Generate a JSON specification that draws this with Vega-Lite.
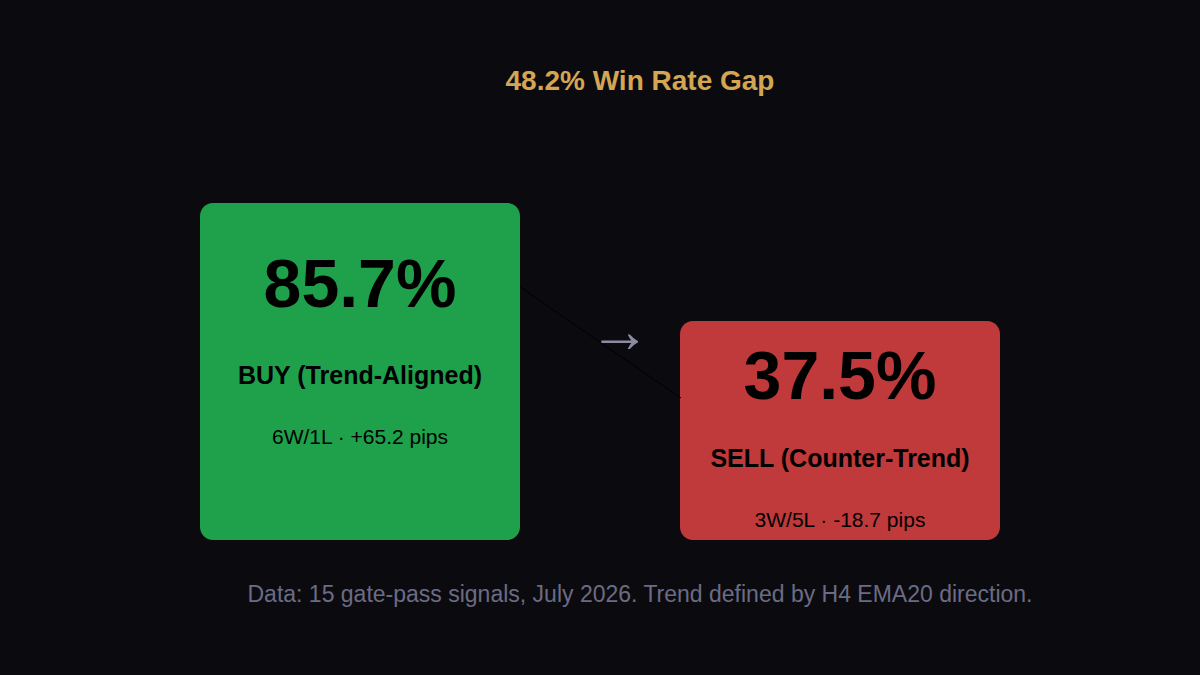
{
  "$schema": "https://vega.github.io/schema/vega-lite/v6.json",
  "width": 1200,
  "height": 675,
  "autosize": {"type": "fit", "contains": "padding"},
  "padding": 0,
  "background": "#0b0b0f",
  "view": {"stroke": null},
  "config": {"font": "Liberation Sans"},
  "datasets": {
    "boxes": [
      {"slot": 1, "side": "BUY", "rate": 85.7, "wins": 6, "losses": 1, "pips": 65.2,
       "pct": "85.7%", "label": "BUY (Trend-Aligned)", "record": "6W/1L · +65.2 pips"},
      {"slot": 2, "side": "SELL", "rate": 37.5, "wins": 3, "losses": 5, "pips": -18.7,
       "pct": "37.5%", "label": "SELL (Counter-Trend)", "record": "3W/5L · -18.7 pips"}
    ],
    "notes": [
      {"kind": "title", "text": "48.2% Win Rate Gap"},
      {"kind": "footnote", "text": "Data: 15 gate-pass signals, July 2026. Trend defined by H4 EMA20 direction."}
    ]
  },
  "data": {"name": "boxes"},
  "resolve": {"scale": {"x": "independent", "y": "independent", "color": "independent"}},
  "layer": [
    {
      "mark": {"type": "bar", "width": 320, "cornerRadius": 13},
      "encoding": {
        "x": {"field": "slot", "type": "quantitative", "scale": {"domain": [0.25, 2.75], "range": [0, 1200], "padding": 0, "zero": false, "nice": false}, "axis": null},
        "y": {"field": "rate", "type": "quantitative", "scale": {"domain": [-107.1, 168.6], "range": [675, 0], "zero": false, "nice": false}, "axis": null},
        "y2": {"datum": -52},
        "color": {"field": "side", "type": "nominal", "scale": {"domain": ["BUY", "SELL"], "range": ["#1fa14c", "#c0393b"]}, "legend": null},
        "tooltip": [
          {"field": "label", "type": "nominal", "title": "Side"},
          {"field": "rate", "type": "quantitative", "title": "Win rate %"},
          {"field": "pips", "type": "quantitative"}
        ]
      }
    },
    {
      "mark": {"type": "line", "color": "#000000", "strokeWidth": 1},
      "encoding": {
        "x": {"field": "slot", "type": "quantitative", "scale": {"domain": [1, 2], "range": [520, 681], "zero": false, "nice": false}, "axis": null},
        "y": {"field": "rate", "type": "quantitative", "scale": {"domain": [37.5, 85.7], "range": [398, 287], "zero": false, "nice": false}, "axis": null}
      }
    },
    {
      "mark": {"type": "text", "text": "→", "fontSize": 62, "fontWeight": "bold", "align": "left", "baseline": "middle", "dx": -12, "dy": -10, "color": "#8b8ba3"},
      "encoding": {
        "x": {"aggregate": "mean", "field": "slot", "type": "quantitative", "scale": {"domain": [1, 2], "range": [520, 681], "zero": false, "nice": false}, "axis": null},
        "y": {"aggregate": "mean", "field": "rate", "type": "quantitative", "scale": {"domain": [37.5, 85.7], "range": [398, 287], "zero": false, "nice": false}, "axis": null}
      }
    },
    {
      "mark": {"type": "text", "fontSize": 68, "fontWeight": "bold", "baseline": "middle", "color": "#000000"},
      "encoding": {
        "text": {"field": "pct"},
        "x": {"field": "slot", "type": "quantitative", "scale": {"domain": [0.25, 2.75], "range": [0, 1200], "zero": false, "nice": false}, "axis": null},
        "y": {"field": "rate", "type": "quantitative", "scale": {"domain": [37.5, 85.7], "range": [378.5, 287], "zero": false, "nice": false}, "axis": null}
      }
    },
    {
      "mark": {"type": "text", "fontSize": 25, "fontWeight": "bold", "baseline": "middle", "color": "#000000"},
      "encoding": {
        "text": {"field": "label"},
        "x": {"field": "slot", "type": "quantitative", "scale": {"domain": [0.25, 2.75], "range": [0, 1200], "zero": false, "nice": false}, "axis": null},
        "y": {"field": "rate", "type": "quantitative", "scale": {"domain": [37.5, 85.7], "range": [459, 376], "zero": false, "nice": false}, "axis": null}
      }
    },
    {
      "mark": {"type": "text", "fontSize": 21, "baseline": "middle", "color": "#000000"},
      "encoding": {
        "text": {"field": "record"},
        "x": {"field": "slot", "type": "quantitative", "scale": {"domain": [0.25, 2.75], "range": [0, 1200], "zero": false, "nice": false}, "axis": null},
        "y": {"field": "rate", "type": "quantitative", "scale": {"domain": [37.5, 85.7], "range": [521, 437.5], "zero": false, "nice": false}, "axis": null}
      }
    },
    {
      "data": {"name": "notes"},
      "transform": [{"filter": "datum.kind === 'title'"}],
      "mark": {"type": "text", "fontSize": 28, "fontWeight": "bold", "baseline": "middle", "color": "#d4a653"},
      "encoding": {
        "text": {"field": "text"},
        "x": {"datum": 1.5833, "type": "quantitative", "scale": {"domain": [0.25, 2.75], "range": [0, 1200], "zero": false, "nice": false}, "axis": null},
        "y": {"datum": 135.1, "type": "quantitative", "scale": {"domain": [-107.1, 168.6], "range": [675, 0], "zero": false, "nice": false}, "axis": null}
      }
    },
    {
      "data": {"name": "notes"},
      "transform": [{"filter": "datum.kind === 'footnote'"}],
      "mark": {"type": "text", "fontSize": 23, "baseline": "middle", "color": "#6b6b85"},
      "encoding": {
        "text": {"field": "text"},
        "x": {"datum": 1.5833, "type": "quantitative", "scale": {"domain": [0.25, 2.75], "range": [0, 1200], "zero": false, "nice": false}, "axis": null},
        "y": {"datum": -74.4, "type": "quantitative", "scale": {"domain": [-107.1, 168.6], "range": [675, 0], "zero": false, "nice": false}, "axis": null}
      }
    }
  ]
}
